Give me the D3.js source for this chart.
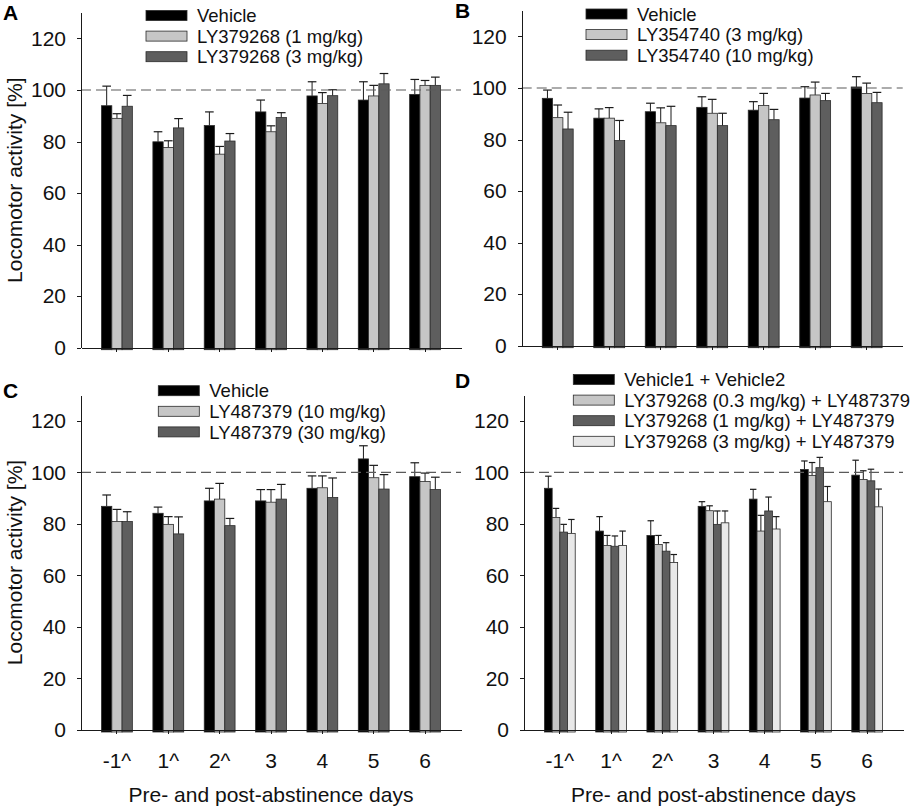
<!DOCTYPE html>
<html>
<head>
<meta charset="utf-8">
<script src="https://cdn.jsdelivr.net/npm/d3@7.9.0/dist/d3.min.js"></script>
<style>
  body { margin: 0; background: #fff; }
  svg { font-family: "Liberation Sans", Arial, sans-serif; }
  .axis path, .axis line { stroke: #1a1a1a; stroke-width: 1; shape-rendering: crispEdges; }
  .axis text { font-size: 21px; fill: #111; }
</style>
</head>
<body>
<svg id="chart" width="913" height="809"></svg>
<script>
// ---- data ----
const days = ["-1^", "1^", "2^", "3", "4", "5", "6"];
const yTicks = [0, 20, 40, 60, 80, 100, 120];

const seriesA = ["Vehicle", "LY379268 (1 mg/kg)", "LY379268 (3 mg/kg)"];
const meansA = [
  [93.9, 79.9, 86.2, 91.5, 97.7, 96.1, 98.3],
  [89.0, 77.7, 75.1, 83.8, 94.8, 97.7, 101.8],
  [93.7, 85.3, 80.2, 89.3, 97.8, 102.4, 101.8]
];
const semA = [
  [7.6, 3.9, 5.3, 4.6, 5.5, 7.1, 5.8],
  [1.8, 2.6, 3.0, 2.3, 4.2, 4.1, 1.9],
  [4.2, 3.6, 2.9, 1.9, 2.3, 4.0, 3.2]
];

const seriesB = ["Vehicle", "LY354740 (3 mg/kg)", "LY354740 (10 mg/kg)"];
const meansB = [
  [96.0, 88.3, 90.8, 92.5, 91.4, 96.1, 100.4],
  [88.5, 88.3, 86.5, 90.2, 93.2, 97.3, 97.9],
  [84.1, 79.6, 85.4, 85.4, 87.7, 95.1, 94.3]
];
const semB = [
  [3.2, 3.6, 3.3, 4.1, 3.3, 4.4, 4.0],
  [4.9, 4.1, 5.8, 5.4, 4.7, 5.0, 4.0],
  [6.5, 7.8, 7.5, 4.8, 4.0, 2.8, 4.0]
];

const seriesC = ["Vehicle", "LY487379 (10 mg/kg)", "LY487379 (30 mg/kg)"];
const meansC = [
  [86.8, 84.1, 88.9, 88.9, 93.8, 105.2, 98.3],
  [80.9, 79.8, 89.6, 88.4, 94.0, 97.9, 96.4],
  [80.9, 76.1, 79.3, 89.6, 90.2, 93.5, 93.3]
];
const semC = [
  [4.4, 2.4, 4.9, 4.4, 4.8, 5.1, 5.4],
  [4.7, 3.0, 6.1, 4.9, 4.6, 4.8, 3.3],
  [3.8, 6.6, 2.8, 5.7, 7.6, 5.6, 4.8]
];

const seriesD = ["Vehicle1 + Vehicle2", "LY379268 (0.3 mg/kg) + LY487379",
                 "LY379268 (1 mg/kg) + LY487379", "LY379268 (3 mg/kg) + LY487379"];
const meansD = [
  [93.8, 77.2, 75.5, 86.8, 89.6, 101.1, 98.9],
  [82.5, 71.6, 72.0, 85.1, 77.2, 98.8, 97.2],
  [76.8, 71.3, 69.4, 79.8, 85.0, 101.8, 96.7],
  [76.3, 71.6, 65.0, 80.4, 78.0, 88.6, 86.6]
];
const semD = [
  [4.7, 5.6, 5.7, 1.8, 3.8, 3.3, 5.8],
  [3.5, 3.9, 3.5, 1.9, 6.1, 5.0, 3.4],
  [3.0, 4.0, 3.3, 5.2, 5.4, 4.0, 4.5],
  [5.4, 5.6, 3.1, 4.6, 4.8, 5.9, 6.9]
];

const fills = ["#000000", "#c6c6c6", "#5e5e5e", "#e8e8e8"];

// ---- layout of the four panels ----
const panels = [
  { letter: "A", series: seriesA, means: meansA, sem: semA, left: 81, top: 12.7, width: 380,
    letterX: 3, letterY: 20, legX: 146, legY: 15.5, yTitle: true, xLabels: false },
  { letter: "B", series: seriesB, means: meansB, sem: semB, left: 521.7, top: 10.7, width: 381,
    letterX: 455, letterY: 18, legX: 586, legY: 14, yTitle: false, xLabels: false },
  { letter: "C", series: seriesC, means: meansC, sem: semC, left: 81, top: 395, width: 380,
    letterX: 3, letterY: 398, legX: 158.3, legY: 390.7, yTitle: true, xLabels: true },
  { letter: "D", series: seriesD, means: meansD, sem: semD, left: 524, top: 395, width: 379,
    letterX: 455, letterY: 388, legX: 573.3, legY: 379.5, yTitle: false, xLabels: true }
];
const innerH = 335;

const svg = d3.select("#chart");

panels.forEach(p => {
  const g = svg.append("g").attr("transform", `translate(${p.left},${p.top})`);

  const x = d3.scaleBand().domain(days).range([0, p.width])
    .paddingInner(0.4).paddingOuter(0.4);
  const xs = d3.scaleBand().domain(p.series).range([0, x.bandwidth()]);
  const y = d3.scaleLinear().domain([0, 130]).range([innerH, 0]);

  // bars + upper error bars
  p.series.forEach((s, si) => {
    const bw = xs.bandwidth();
    const rows = days.map((d, i) => ({ day: d, m: p.means[si][i], e: p.sem[si][i] }));
    const sg = g.append("g");
    sg.selectAll("line.err").data(rows).join("line")
      .attr("x1", d => x(d.day) + xs(s) + bw / 2)
      .attr("x2", d => x(d.day) + xs(s) + bw / 2)
      .attr("y1", d => y(d.m))
      .attr("y2", d => y(d.m + d.e))
      .attr("stroke", "#1a1a1a").attr("stroke-width", 1);
    sg.selectAll("line.cap").data(rows).join("line")
      .attr("x1", d => x(d.day) + xs(s) + bw * 0.08)
      .attr("x2", d => x(d.day) + xs(s) + bw * 0.92)
      .attr("y1", d => y(d.m + d.e))
      .attr("y2", d => y(d.m + d.e))
      .attr("stroke", "#1a1a1a").attr("stroke-width", 1.2);
    sg.selectAll("rect").data(rows).join("rect")
      .attr("x", d => x(d.day) + xs(s))
      .attr("width", bw)
      .attr("y", d => y(d.m))
      .attr("height", d => y(0) - y(d.m) + 2)
      .attr("fill", fills[si])
      .attr("stroke", "#2a2a2a").attr("stroke-width", 0.8);
  });

  // reference line at 100 %
  g.append("line")
    .attr("x1", 0).attr("x2", p.width)
    .attr("y1", y(100)).attr("y2", y(100))
    .attr("stroke", "#5a5a5a").attr("stroke-width", 1.2)
    .attr("stroke-dasharray", "10,5");

  // axes
  g.append("g").attr("class", "axis")
    .call(d3.axisLeft(y).tickValues(yTicks).tickSize(4).tickSizeOuter(0).tickPadding(11));

  const xAxis = g.append("g").attr("class", "axis")
    .attr("transform", `translate(0,${innerH})`)
    .call(d3.axisBottom(x).tickSize(4).tickSizeOuter(0).tickPadding(19));
  if (!p.xLabels) xAxis.selectAll(".tick text").remove();

  if (p.xLabels) {
    g.append("text")
      .attr("x", p.width / 2).attr("y", innerH + 72)
      .attr("text-anchor", "middle")
      .attr("font-size", 21).attr("fill", "#111")
      .text("Pre- and post-abstinence days");
  }

  if (p.yTitle) {
    g.append("text")
      .attr("transform", `translate(${15 - p.left},${innerH / 2}) rotate(-90)`)
      .attr("text-anchor", "middle")
      .attr("dy", "0.35em")
      .attr("font-size", 21).attr("fill", "#111")
      .text("Locomotor activity [%]");
  }

  // panel letter
  svg.append("text")
    .attr("x", p.letterX).attr("y", p.letterY)
    .attr("font-size", 21).attr("font-weight", "bold").attr("fill", "#000")
    .text(p.letter);

  // legend
  const leg = svg.append("g").attr("transform", `translate(${p.legX},${p.legY})`);
  const item = leg.selectAll("g").data(p.series).join("g")
    .attr("transform", (d, i) => `translate(0,${i * 20.6})`);
  item.append("rect")
    .attr("x", 0).attr("y", -5).attr("width", 41).attr("height", 10)
    .attr("fill", (d, i) => fills[i])
    .attr("stroke", "#2a2a2a").attr("stroke-width", 0.8);
  item.append("text")
    .attr("x", 51).attr("dy", "0.36em")
    .attr("font-size", 18.5).attr("fill", "#111")
    .text(d => d);
});
</script>
</body>
</html>
